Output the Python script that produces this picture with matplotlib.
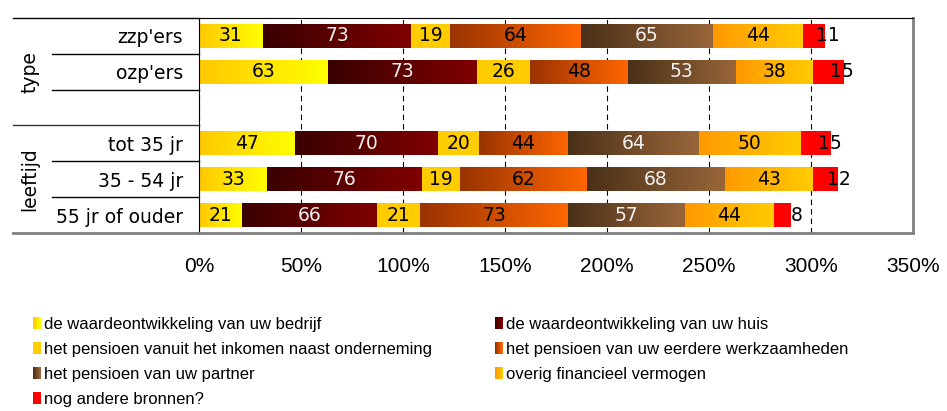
import numpy as np
import matplotlib
matplotlib.use("Agg")
import matplotlib.pyplot as plt
import matplotlib.transforms as mtransforms
from matplotlib.colors import LinearSegmentedColormap
from matplotlib.patches import Rectangle
from matplotlib.legend_handler import HandlerBase

# data
groups = ["type", "leeftijd"]
group_rows = [["zzp'ers", "ozp'ers"],
              ["tot 35 jr", "35 - 54 jr", "55 jr of ouder"]]

series = ["de waardeontwikkeling van uw bedrijf",
          "de waardeontwikkeling van uw huis",
          "het pensioen vanuit het inkomen naast onderneming",
          "het pensioen van uw eerdere werkzaamheden",
          "het pensioen van uw partner",
          "overig financieel vermogen",
          "nog andere bronnen?"]

bedrijf = [31, 63, 47, 33, 21]
huis = [73, 73, 70, 76, 66]
naast = [19, 26, 20, 19, 21]
eerdere = [64, 48, 44, 62, 73]
partner = [65, 53, 64, 68, 57]
overig = [44, 38, 50, 43, 44]
andere = [11, 15, 15, 12, 8]

xticks = [0, 50, 100, 150, 200, 250, 300, 350]

data = [bedrijf, huis, naast, eerdere, partner, overig, andere]
# (left colour, right colour) of each bar's gradient
colors = [("#FFC800", "#FFFF00"),
          ("#3A0000", "#800000"),
          ("#FFCC00", "#FFCC00"),
          ("#993300", "#FF6600"),
          ("#4A3018", "#99663A"),
          ("#FF9900", "#FFCC00"),
          ("#FF0000", "#FF0000")]
txtcol = ["black", "#F0F0F0", "black", "black", "#F0F0F0", "black", "black"]

# row positions, blank row between the groups
ypos, ylabels, spans = [], [], []
pos = 0
for gi, rows in enumerate(group_rows):
    start = pos
    for r in rows:
        ypos.append(pos)
        ylabels.append(r)
        pos += 1
    if gi < len(group_rows) - 1:
        pos += 1
    spans.append((start - 0.5, pos - 0.5))
nrows = pos

fig = plt.figure(figsize=(9.47, 4.11), dpi=100)
ax = fig.add_axes([199.3/947, 1-233/411, 713.7/947, 215/411])

grad = np.linspace(0, 1, 256).reshape(1, -1)
left = np.zeros(len(ypos))
for i, vals in enumerate(data):
    vals = np.array(vals, dtype=float)
    c0, c1 = colors[i]
    solid = c0 == c1
    cont = ax.barh(ypos, vals, left=left, height=0.667,
                   color=c0 if solid else "none", linewidth=0, zorder=2)
    if not solid:
        cmap = LinearSegmentedColormap.from_list("g%d" % i, [c0, c1])
        for p in cont.patches:
            x0, y0, w, h = p.get_x(), p.get_y(), p.get_width(), p.get_height()
            ax.imshow(grad, cmap=cmap, extent=(x0, x0 + w, y0, y0 + h),
                      aspect="auto", zorder=2, interpolation="bilinear")
    labs = ax.bar_label(cont, labels=["%d" % v for v in vals], label_type="center",
                        fontsize=13.5, color=txtcol[i], zorder=4)
    if i == len(data) - 1:
        for t in labs:
            t.xyann = (10, 0)
    left += vals

ax.set_xlim(0, 350)
ax.set_ylim(nrows - 0.5, -0.5)
ax.set_xticks(xticks)
ax.set_xticklabels(["%d%%" % t for t in xticks], fontsize=15, family="Liberation Sans")
ax.set_yticks(ypos)
ax.set_yticklabels(ylabels, fontsize=13.5)
ax.tick_params(axis="x", length=0, pad=17)
ax.tick_params(axis="y", length=0, pad=11.5)
ax.xaxis.grid(True, linestyle=(0, (5, 3.5)), color="black", linewidth=0.8)
ax.set_axisbelow(True)

ax.spines["top"].set_color("black")
ax.spines["left"].set_color("black")
ax.spines["right"].set_color("#808080")
ax.spines["right"].set_linewidth(2)
ax.spines["bottom"].set_color("#808080")
ax.spines["bottom"].set_linewidth(2)

# lines and labels of the category area
tr = mtransforms.blended_transform_factory(ax.transAxes, ax.transData)
x_in = (52 - 199.3) / 713.7
x_out = (13 - 199.3) / 713.7
for gi, (a, b) in enumerate(spans):
    for k in np.arange(a + 1, b):
        ax.plot([x_in, 0], [k, k], color="black", lw=1, transform=tr, clip_on=False)
    ax.text((30 - 199.3) / 713.7, (a + b) / 2, groups[gi], rotation=90,
            ha="center", va="center", fontsize=13.5, transform=tr)
ax.plot([x_out, 0], [-0.5, -0.5], color="black", lw=1, transform=tr, clip_on=False)
for a, b in spans[:-1]:
    ax.plot([x_out, 0], [b, b], color="#333333", lw=1, transform=tr, clip_on=False)
ax.plot([x_out, 0], [nrows - 0.5, nrows - 0.5], color="#808080", lw=2,
        transform=tr, clip_on=False)


# legend with small gradient squares
class GradHandle:
    def __init__(self, c0, c1):
        self.c0, self.c1 = c0, c1


class GradHandler(HandlerBase):
    def create_artists(self, legend, h, xd, yd, width, height, fontsize, trans):
        cmap = LinearSegmentedColormap.from_list("lg", [h.c0, h.c1])
        n = 8
        out = []
        for k in range(n):
            out.append(Rectangle((-xd + width * k / n, -yd), width / n + 0.2, height,
                                 facecolor=cmap(k / (n - 1)), edgecolor="none",
                                 transform=trans))
        return out


handles = [GradHandle(*c) for c in colors]
for col, idx, xl in [(0, [0, 2, 4, 6], 33), (1, [1, 3, 5], 495)]:
    fig.legend([handles[k] for k in idx], [series[k] for k in idx],
               handler_map={GradHandle: GradHandler()},
               loc="upper left", bbox_to_anchor=(xl / 947, 1 - 317 / 411),
               frameon=False, borderpad=0, borderaxespad=0,
               handlelength=0.45, handleheight=0.7, handletextpad=0.2,
               labelspacing=0.6, prop={"family": "Liberation Sans", "size": 12})

fig.savefig("out.png", dpi=100)
